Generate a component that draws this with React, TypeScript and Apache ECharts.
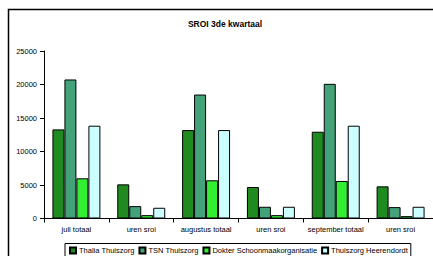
import React, { useEffect, useRef } from "react";
import * as echarts from "echarts";

const categories = ["juli totaal", "uren sroi", "augustus totaal", "uren sroi", "september totaal", "uren sroi"];
const seriesNames = ["Thalia Thuiszorg", "TSN Thuiszorg", "Dokter Schoonmaakorganisatie", "Thuiszorg Heerendordt"];
const thalia = [13300, 5100, 13200, 4700, 12950, 4800];
const tsn = [20750, 1850, 18500, 1750, 20100, 1700];
const dokter = [6000, 500, 5700, 500, 5600, 350];
const heerendordt = [13850, 1600, 13200, 1750, 13850, 1750];
const colors = ["#1f8a1f", "#44a27a", "#33ee33", "#ccffff"];
const yTicks = { min: 0, max: 25000, interval: 5000 };

const FONT = "Arial, 'Liberation Sans', sans-serif";

export default function App() {
  const ref = useRef<HTMLDivElement>(null);
  useEffect(() => {
    if (!ref.current) return;
    const chart = echarts.init(ref.current, undefined, { renderer: "svg" });
    const data = [thalia, tsn, dokter, heerendordt];
    chart.setOption({
      animation: false,
      backgroundColor: "#fff",
      title: {
        text: "SROI 3de kwartaal",
        left: 225,
        top: 19,
        textAlign: "center",
        padding: 0,
        textStyle: { fontFamily: FONT, fontSize: 8.5, fontWeight: "bold", color: "#000" },
      },
      graphic: [
        {
          type: "rect",
          shape: { x: 8.5, y: 9.5, width: 600, height: 400 },
          style: { fill: "none", stroke: "#000", lineWidth: 1.5 },
          silent: true,
          z: 100,
        },
      ],
      grid: { left: 44, right: -1, top: 51, bottom: 37.5, containLabel: false },
      legend: {
        data: seriesNames,
        left: 65,
        top: 243.5,
        padding: [3, 3, 6, 4],
        itemWidth: 6,
        itemHeight: 6,
        itemGap: 4,
        borderColor: "#000",
        borderWidth: 1,
        backgroundColor: "#fff",
        textStyle: { fontFamily: FONT, fontSize: 7.5, color: "#000", padding: [0, 0, 0, -2] },
        icon: "rect",
      },
      xAxis: {
        type: "category",
        data: categories,
        axisLine: { lineStyle: { color: "#000", width: 1 } },
        axisTick: { show: true, alignWithLabel: false, length: 4, lineStyle: { color: "#000" } },
        axisLabel: { fontFamily: FONT, fontSize: 7.5, color: "#000", margin: 7, interval: 0 },
      },
      yAxis: {
        type: "value",
        min: yTicks.min,
        max: yTicks.max,
        interval: yTicks.interval,
        axisLine: { show: true, lineStyle: { color: "#000", width: 1 } },
        axisTick: { show: true, length: 4, lineStyle: { color: "#000" } },
        splitLine: { show: false },
        axisLabel: {
          fontFamily: FONT,
          fontSize: 7.5,
          color: "#000",
          margin: 7,
          formatter: (v: number) => String(v),
        },
      },
      series: seriesNames.map((name, i) => ({
        name,
        type: "bar",
        data: data[i],
        barGap: "0%",
        barCategoryGap: "26%",
        itemStyle: { color: colors[i], borderColor: "#000", borderWidth: 1 },
      })),
    });
    return () => chart.dispose();
  }, []);
  return <div ref={ref} style={{ position: "absolute", left: 0, top: 0, width: 433, height: 256 }} />;
}
